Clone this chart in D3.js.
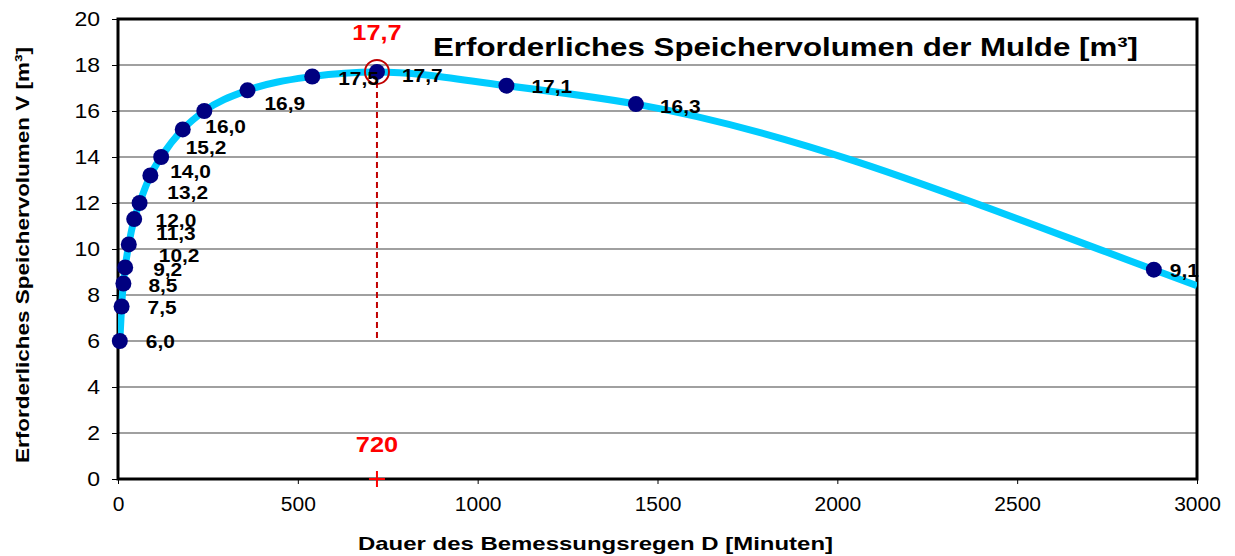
<!DOCTYPE html>
<html>
<head>
<meta charset="utf-8">
<script src="https://cdn.jsdelivr.net/npm/d3@7"></script>
<style>
  body { margin: 0; background: #fff; }
  text { font-family: "Liberation Sans", Arial, sans-serif; }
</style>
</head>
<body>
<div id="chart"></div>
<script>
// Dauer D [min] und erforderliches Volumen V [m³]
var durations = [5, 10, 15, 20, 30, 45, 60, 90, 120, 180, 240, 360, 540, 720, 1080, 1440, 2880];
var volumes   = [6.0, 7.5, 8.5, 9.2, 10.2, 11.3, 12.0, 13.2, 14.0, 15.2, 16.0, 16.9, 17.5, 17.7, 17.1, 16.3, 9.1];
// curve continues to the right edge of the chart
var curveEndD = 3000, curveEndV = 8.4;
var maxD = 720, maxV = 17.7;

var xTicks = [0, 500, 1000, 1500, 2000, 2500, 3000];
var yTicks = [0, 2, 4, 6, 8, 10, 12, 14, 16, 18, 20];

// label nudges in px (dx, dy) like in the original sheet
var labelNudge = [[26,0],[26,1],[25,2],[28,2],[30,11],[22,14],[16,17],[17,17],[9,14],[3,18],[1,15],[17,13],[26,2],[25,3],[25,1],[24,2],[16,1]];

var margin = {top: 19, right: 38, bottom: 77, left: 118},
    width = 1235 - margin.left - margin.right,
    height = 556 - margin.top - margin.bottom;

var xScale = d3.scaleLinear().domain([0, 3000]).range([0, width]);
var yScale = d3.scaleLinear().domain([0, 20]).range([height, 0]);

// the original sheet has slightly widened glyphs
function widen(sel, k) {
  sel.each(function() {
    var w = this.getComputedTextLength();
    d3.select(this).attr("textLength", w * k).attr("lengthAdjust", "spacingAndGlyphs");
  });
}

var svg = d3.select("#chart").append("svg")
    .attr("width", 1235)
    .attr("height", 556)
  .append("g")
    .attr("transform", "translate(" + margin.left + "," + margin.top + ")");

svg.append("defs").append("clipPath").attr("id", "clip")
  .append("rect").attr("width", width).attr("height", height);

// grid
svg.selectAll(".grid").data(yTicks.filter(function(d) { return d > 0 && d < 20; }))
  .enter().append("line")
    .attr("class", "grid")
    .attr("x1", 0).attr("x2", width)
    .attr("y1", function(d) { return yScale(d); })
    .attr("y2", function(d) { return yScale(d); })
    .style("stroke", "#808080").style("stroke-width", 1.5);

// axes
var yAxis = svg.append("g")
  .call(d3.axisLeft(yScale).tickValues(yTicks).tickFormat(d3.format("d")).tickSize(6).tickPadding(12));
var xAxis = svg.append("g")
  .attr("transform", "translate(0," + height + ")")
  .call(d3.axisBottom(xScale).tickValues(xTicks).tickFormat(d3.format("d")).tickSize(5).tickPadding(13));
[xAxis, yAxis].forEach(function(ax) {
  ax.select(".domain").remove();
  ax.selectAll(".tick line").style("stroke", "#000").style("stroke-width", 1);
  ax.selectAll(".tick text").style("font-size", "20px").style("fill", "#000")
    .style("font-family", "'Liberation Sans', Arial, sans-serif");
});
widen(yAxis.selectAll(".tick text"), 1.15);
widen(xAxis.selectAll(".tick text"), 1.05);

// frame
svg.append("rect")
  .attr("width", width).attr("height", height)
  .style("fill", "none").style("stroke", "#000").style("stroke-width", 3);

// red dashed marker for the maximum
svg.append("line")
  .attr("x1", xScale(maxD)).attr("x2", xScale(maxD))
  .attr("y1", yScale(maxV)).attr("y2", yScale(6))
  .style("stroke", "#c00000").style("stroke-width", 2)
  .style("stroke-dasharray", "6,4");

// curve
var lineData = durations.map(function(d, i) { return [d, volumes[i]]; });
lineData.push([curveEndD, curveEndV]);
var line = d3.line()
  .x(function(d) { return xScale(d[0]); })
  .y(function(d) { return yScale(d[1]); })
  .curve(d3.curveMonotoneX);
svg.append("path")
  .datum(lineData)
  .attr("clip-path", "url(#clip)")
  .attr("d", line)
  .style("fill", "none").style("stroke", "#00ccff").style("stroke-width", 7)
  .style("stroke-linejoin", "round");

// points
svg.selectAll(".pt").data(durations)
  .enter().append("circle")
    .attr("class", "pt")
    .attr("cx", function(d) { return xScale(d); })
    .attr("cy", function(d, i) { return yScale(volumes[i]); })
    .attr("r", 8)
    .style("fill", "#000080");

// circle around maximum
svg.append("circle")
  .attr("cx", xScale(maxD)).attr("cy", yScale(maxV))
  .attr("r", 12)
  .style("fill", "none").style("stroke", "#c00000").style("stroke-width", 2);

// value labels
var labels = svg.selectAll(".lbl").data(durations)
  .enter().append("text")
    .attr("class", "lbl")
    .attr("x", function(d, i) { return xScale(d) + labelNudge[i][0]; })
    .attr("y", function(d, i) { return yScale(volumes[i]) + labelNudge[i][1]; })
    .attr("dy", "0.35em")
    .style("font-size", "19px").style("font-weight", "bold")
    .text(function(d, i) { return d3.format(".1f")(volumes[i]).replace(".", ","); });
widen(labels, 1.1);

// red annotations
var redMax = svg.append("text")
  .attr("x", xScale(maxD)).attr("y", 40 - margin.top)
  .attr("text-anchor", "middle")
  .style("font-size", "22px").style("font-weight", "bold").style("fill", "#ff0000")
  .text(String(maxV).replace(".", ","));
var redD = svg.append("text")
  .attr("x", xScale(maxD)).attr("y", 452 - margin.top)
  .attr("text-anchor", "middle")
  .style("font-size", "22px").style("font-weight", "bold").style("fill", "#ff0000")
  .text(maxD);
widen(redMax, 1.15);
widen(redD, 1.15);
svg.append("path")
  .attr("d", "M" + (xScale(maxD) - 8) + "," + height + "h16M" + xScale(maxD) + "," + (height - 8) + "v16")
  .style("stroke", "#ff0000").style("stroke-width", 2);

// title
svg.append("text")
  .attr("x", 433 - margin.left).attr("y", 56 - margin.top)
  .attr("textLength", 705).attr("lengthAdjust", "spacingAndGlyphs")
  .style("font-size", "26px").style("font-weight", "bold")
  .text("Erforderliches Speichervolumen der Mulde [m³]");

// axis titles
svg.append("text")
  .attr("x", 358 - margin.left).attr("y", 550 - margin.top)
  .attr("textLength", 475).attr("lengthAdjust", "spacingAndGlyphs")
  .style("font-size", "19px").style("font-weight", "bold")
  .text("Dauer des Bemessungsregen D [Minuten]");
svg.append("text")
  .attr("transform", "translate(" + (29 - margin.left) + "," + (463 - margin.top) + ") rotate(-90)")
  .attr("textLength", 416).attr("lengthAdjust", "spacingAndGlyphs")
  .style("font-size", "19px").style("font-weight", "bold")
  .text("Erforderliches Speichervolumen V [m³]");
</script>
</body>
</html>
